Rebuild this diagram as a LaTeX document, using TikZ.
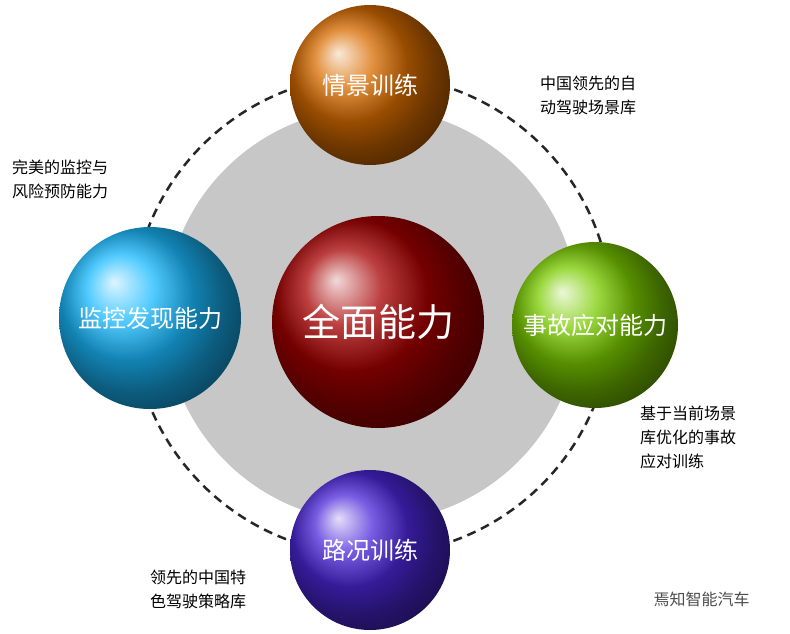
\documentclass[tikz,border=0pt]{standalone}
\usepackage{fontspec}
\setmainfont{Noto Sans CJK SC}
\begin{document}
\begin{tikzpicture}[x=1pt,y=-1pt]
\tikzstyle{ballnode}=[circle,minimum size=160pt,inner sep=0pt,text=white,font=\fontsize{24}{24}\selectfont]
\tikzstyle{note}=[anchor=north west,align=left,font=\fontsize{16}{24}\selectfont,inner sep=0pt]
\useasboundingbox (0,0) rectangle (790,633);
\fill [white] (0,0) rectangle (790,633);
\draw [black!85,line width=2.5pt,dash pattern=on 9pt off 6pt] (372,315) circle (240);
\fill [black!22] (372,315) circle (207);
\node [ballnode,minimum size=212pt,shading=ball,ball color=red!65!black,font=\fontsize{38}{38}\selectfont] (center) at (378,322) {全面能力};
\node [ballnode,shading=ball,ball color=orange!85!black] (top) at (370,85) {情景训练};
\node [ballnode,minimum size=166pt,shading=ball,ball color=yellow!60!green!80!black] (right) at (595,325) {事故应对能力};
\node [ballnode,minimum size=182pt,shading=ball,ball color=cyan!70!blue!90] (left) at (150,318) {监控发现能力};
\node [ballnode,shading=ball,ball color=blue!65!violet!85!white] (bottom) at (370,550) {路况训练};
\node [note] (ntop) at (540,76) {中国领先的自\\动驾驶场景库};
\node [note] (nleft) at (12,160) {完美的监控与\\风险预防能力};
\node [note] (nright) at (640,406) {基于当前场景\\库优化的事故\\应对训练};
\node [note] (nbottom) at (150,570) {领先的中国特\\色驾驶策略库};
\node [anchor=west,font=\fontsize{16}{16}\selectfont,text=black!70] (mark) at (650,599) {焉知智能汽车};
\end{tikzpicture}
\end{document}
